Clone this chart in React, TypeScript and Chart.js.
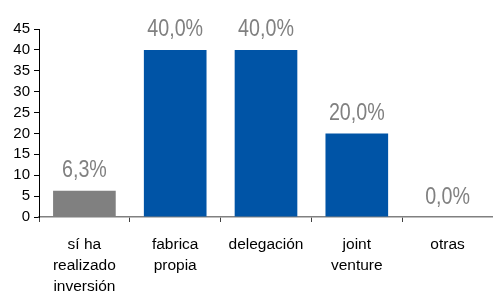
import React, { useEffect, useRef } from "react";
import { Chart, registerables } from "chart.js";

Chart.register(...registerables);

const categories: string[][] = [
  ["sí ha", "realizado", "inversión"],
  ["fabrica", "propia"],
  ["delegación"],
  ["joint", "venture"],
  ["otras"],
];
const values: number[] = [6.3, 40.0, 40.0, 20.0, 0.0];
const barColors: string[] = ["#808080", "#0054A6", "#0054A6", "#0054A6", "#0054A6"];
const yTicks = { min: 0, max: 45, step: 5 };

const labelPlugin = {
  id: "valueLabels",
  afterDatasetsDraw(chart: any) {
    const ctx = chart.ctx;
    const meta = chart.getDatasetMeta(0);
    meta.data.forEach((bar: any, i: number) => {
      const txt = values[i].toFixed(1).replace(".", ",") + "%";
      ctx.save();
      ctx.font = '24px "Liberation Sans", Arial, sans-serif';
      ctx.fillStyle = "#808080";
      ctx.textAlign = "center";
      ctx.textBaseline = "alphabetic";
      ctx.translate(bar.x, bar.y - 13.5);
      ctx.scale(0.82, 1);
      ctx.fillText(txt, 0, 0);
      ctx.restore();
    });
  },
};

export default function App() {
  const ref = useRef<HTMLCanvasElement | null>(null);
  useEffect(() => {
    if (!ref.current) return;
    const chart = new Chart(ref.current, {
      type: "bar",
      data: {
        labels: categories,
        datasets: [
          {
            data: values,
            backgroundColor: barColors,
            borderWidth: 0,
            barPercentage: 0.69,
            categoryPercentage: 1,
          },
        ],
      },
      options: {
        animation: false,
        responsive: false,
        layout: { padding: { top: 29, right: 0, left: 0, bottom: 0 } },
        plugins: { legend: { display: false }, tooltip: { enabled: false } },
        scales: {
          x: {
            z: 1,
            offset: true,
            grid: {
              display: true,
              drawOnChartArea: false,
              drawTicks: true,
              tickLength: 5,
              color: "#404040",
              offset: true,
            },
            border: { display: true, color: "#808080", width: 1.5 },
            ticks: {
              color: "#000000",
              padding: 12,
              font: { family: '"Liberation Sans", Arial, sans-serif', size: 15.5, lineHeight: 1.35 },
              maxRotation: 0,
              autoSkip: false,
            },
            afterFit(scale: any) {
              scale.height = 76;
            },
          },
          y: {
            z: 1,
            min: yTicks.min,
            max: yTicks.max,
            ticks: {
              stepSize: yTicks.step,
              autoSkip: false,
              color: "#000000",
              padding: 4,
              font: { family: '"Liberation Sans", Arial, sans-serif', size: 15 },
            },
            grid: {
              display: true,
              drawOnChartArea: false,
              drawTicks: true,
              tickLength: 5,
              color: "#000000",
            },
            border: { display: true, color: "#000000", width: 1 },
            afterFit(scale: any) {
              scale.width = 39;
            },
          },
        },
      },
      plugins: [labelPlugin],
    });
    return () => chart.destroy();
  }, []);
  return (
    <div style={{ position: "fixed", left: 0, top: 0, width: 493, height: 293, background: "#fff" }}>
      <canvas ref={ref} width={493} height={293} style={{ display: "block" }} />
    </div>
  );
}
